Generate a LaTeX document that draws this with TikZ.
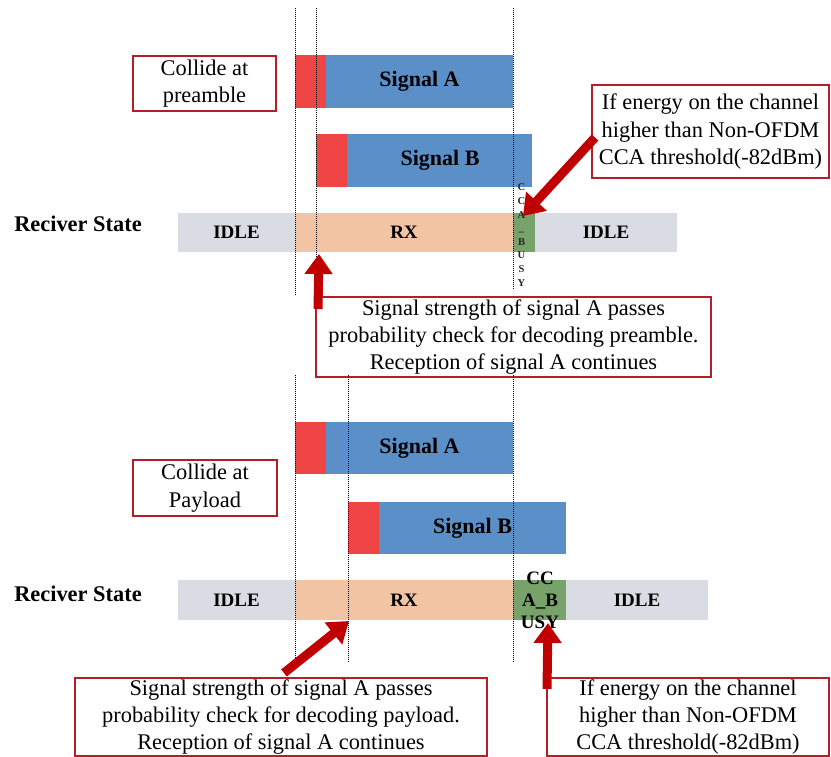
\documentclass[tikz,border=0pt]{standalone}
\usepackage{fontspec}
\setmainfont{Liberation Serif}
\usetikzlibrary{arrows.meta,calc}
\definecolor{sigred}{HTML}{EF4545}
\definecolor{sigblue}{HTML}{5B8FC7}
\definecolor{rxpeach}{HTML}{F3C4A4}
\definecolor{idlegray}{HTML}{D9DDE3}
\definecolor{ccagreen}{HTML}{77A36B}
\definecolor{boxred}{HTML}{B41E28}
\definecolor{arrred}{HTML}{C00000}
\begin{document}
\begin{tikzpicture}[x=1pt,y=-1pt,
  bar/.style={inner sep=0pt,outer sep=0pt,font=\bfseries\fontsize{19}{22}\selectfont},
  sigbar/.style={bar,font=\bfseries\fontsize{22}{25}\selectfont},
  note/.style={draw=boxred,line width=2pt,fill=white,inner sep=0pt,align=center,
    font=\fontsize{22.4}{27.3}\selectfont},
  dotline/.style={line width=0.9pt,dash pattern=on 1pt off 1pt},
  bigarrow/.style={draw=arrred,line width=9pt,-{Triangle[length=20pt,width=27pt]}},
  label/.style={font=\bfseries\fontsize{22.4}{25}\selectfont}]
\useasboundingbox (0,0) rectangle (831,757);

% ---------- top: dotted guides ----------
\coordinate (t1a) at (295,8);  \coordinate (t1b) at (295,295);
\coordinate (t2a) at (316,8);  \coordinate (t2b) at (316,295);
\coordinate (t3a) at (513,8);  \coordinate (t3b) at (513,290);

% ---------- top signals ----------
\node[sigbar,fill=sigblue,minimum width=187pt,minimum height=53pt] (sA) at (419.5,81.5) {Signal A};
\node[bar,fill=sigred,minimum width=31pt,minimum height=53pt] (sAr) at (310.5,81.5) {};
\node[sigbar,fill=sigblue,minimum width=185pt,minimum height=53pt] (sB) at (439.5,160.5) {\hspace*{1pt}Signal B};
\node[bar,fill=sigred,minimum width=31pt,minimum height=53pt] (sBr) at (331.5,160.5) {};

\node[note,minimum width=143pt,minimum height=55pt] (c1) at (204.5,83.5) {Collide at\\preamble};

% ---------- top receiver state ----------
\node[label] (rs1) at (78,224) {Reciver State};
\node[bar,fill=idlegray,minimum width=117pt,minimum height=39pt] (i1) at (236.5,232.5) {IDLE};
\node[bar,fill=rxpeach,minimum width=218pt,minimum height=39pt] (rx1) at (404,232.5) {RX};
\node[bar,fill=ccagreen,minimum width=22pt,minimum height=39pt] (cc1) at (524,232.5) {};
\node[bar,fill=idlegray,minimum width=142pt,minimum height=39pt] (i2) at (606,232.5) {IDLE};
\node[inner sep=0pt,align=center,text=black!85,font=\bfseries\fontsize{10.5}{13.6}\selectfont] (cct1) at (521.5,235)
  {C\\C\\A\\\_\\B\\U\\S\\Y};

\draw[dotline] (t1a) -- (t1b);
\draw[dotline] (t2a) -- (t2b);
\draw[dotline] (t3a) -- (t3b);

% ---------- top notes ----------
\node[note,minimum width=237pt,minimum height=93pt] (e1) at (710.5,131.5)
  {If energy on the channel\\higher than Non-OFDM\\CCA threshold(-82dBm)};
\node[note,minimum width=395pt,minimum height=80pt] (p1) at (513.5,337)
  {Signal strength of signal A passes\\probability check for decoding preamble.\\Reception of signal A continues};

\coordinate (tip1) at (523,216);
\coordinate (tip2) at (319,254);
\draw[bigarrow] ($(e1.west)+(4,6)$) -- (tip1);
\draw[bigarrow] ($(p1.north west)+(3,13)$) -- (tip2);

% ---------- bottom: dotted guides ----------
\coordinate (b1a) at (295,375); \coordinate (b1b) at (295,663);
\coordinate (b2a) at (348,375); \coordinate (b2b) at (348,663);
\coordinate (b3a) at (513,375); \coordinate (b3b) at (513,663);

% ---------- bottom signals ----------
\node[sigbar,fill=sigblue,minimum width=187pt,minimum height=52pt] (sA2) at (419.5,448) {Signal A};
\node[bar,fill=sigred,minimum width=31pt,minimum height=52pt] (sA2r) at (310.5,448) {};
\node[sigbar,fill=sigblue,minimum width=187pt,minimum height=52pt] (sB2) at (472.5,528) {Signal B};
\node[bar,fill=sigred,minimum width=31pt,minimum height=52pt] (sB2r) at (363.5,528) {};

\node[note,minimum width=144pt,minimum height=56pt] (c2) at (205,488) {Collide at\\Payload};

% ---------- bottom receiver state ----------
\node[label] (rs2) at (78,594) {Reciver State};
\node[bar,fill=idlegray,minimum width=117pt,minimum height=40pt] (i3) at (236.5,600) {IDLE};
\node[bar,fill=rxpeach,minimum width=218pt,minimum height=40pt] (rx2) at (404,600) {RX};
\node[bar,fill=ccagreen,minimum width=53pt,minimum height=40pt] (cc2) at (539.5,600) {};
\node[bar,fill=idlegray,minimum width=142pt,minimum height=40pt] (i4) at (637,600) {IDLE};
\node[inner sep=0pt,align=center,font=\bfseries\fontsize{19}{22}\selectfont] (cct2) at (540,600)
  {CC\\A\_B\\USY};

\draw[dotline] (b1a) -- (b1b);
\draw[dotline] (b2a) -- (b2b);
\draw[dotline] (b3a) -- (b3b);

% ---------- bottom notes ----------
\node[note,minimum width=412pt,minimum height=78pt] (p2) at (281,717)
  {Signal strength of signal A passes\\probability check for decoding payload.\\Reception of signal A continues};
\node[note,minimum width=282pt,minimum height=78pt] (e2) at (688,717)
  {If energy on the channel\\higher than Non-OFDM\\CCA threshold(-82dBm)};

\coordinate (tip3) at (349,621);
\coordinate (tip4) at (548,623);
\draw[bigarrow] ($(p2.north)+(3,-4)$) -- (tip3);
\draw[bigarrow] ($(e2.north west)+(1,12)$) -- (tip4);
\end{tikzpicture}
\end{document}
